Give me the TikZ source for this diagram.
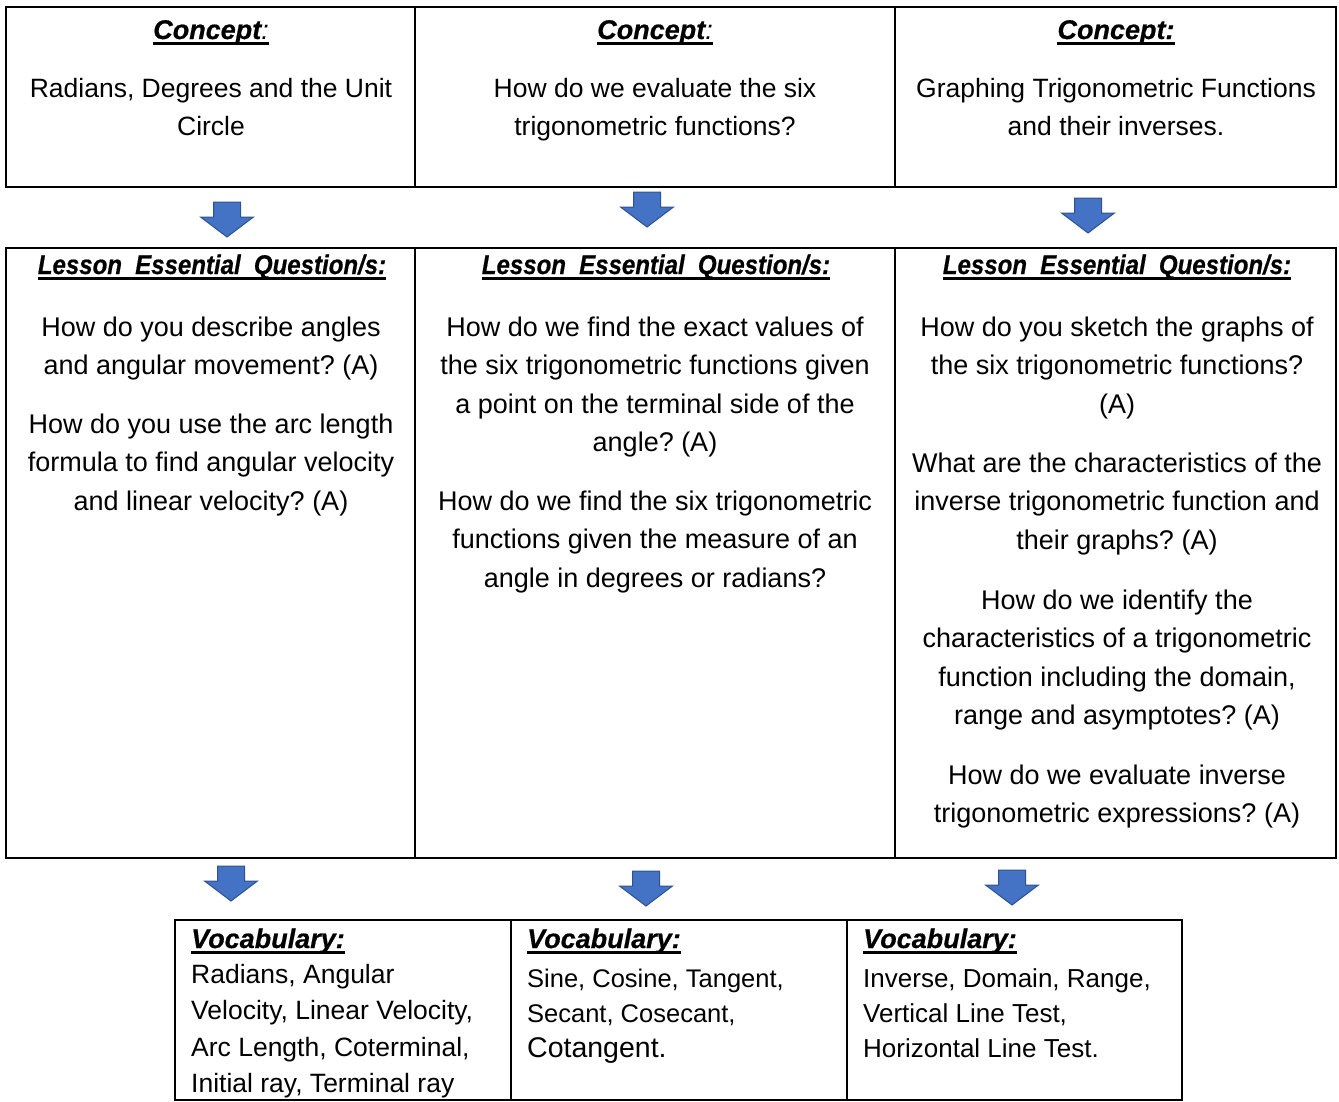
\documentclass[tikz,border=0pt]{standalone}
\usepackage{fontspec}
\setmainfont{Liberation Sans}
\newfontfamily\headfont{Liberation Sans}[BoldItalicFeatures={FakeBold=0.6}]
\usepackage{graphicx}
\frenchspacing
\definecolor{arrfill}{HTML}{4472C4}
\definecolor{arrline}{HTML}{2F528F}
\tikzset{
  body/.style={anchor=base, inner sep=0pt, font=\fontsize{27}{32}\selectfont},
  bodytop/.style={anchor=base, inner sep=0pt, font=\fontsize{26.5}{32}\selectfont},
  vocab/.style={anchor=base west, inner sep=0pt, font=\fontsize{26.5}{32}\selectfont},
  head/.style={anchor=base, inner sep=0pt, font=\headfont\fontsize{27}{32}\selectfont\bfseries\itshape},
  headleft/.style={anchor=base west, inner sep=0pt, font=\headfont\fontsize{27}{32}\selectfont\bfseries\itshape},
  ulline/.style={line width=2.8pt},
  frame/.style={line width=2.4pt},
  blockarrow/.style={fill=arrfill, draw=arrline, line width=1pt, line join=miter},
}
% name, x, first baseline y, style, spacing, list of lines
\newcommand\textlines[6]{%
  \foreach \t [count=\i] in {#6} {%
    \node[#4] (#1-\i) at (#2, {#3 + (\i-1)*#5}) {\t};
  }%
}
\newcommand\ulhead[1]{%
  \draw[ulline] ([yshift=-4.5pt]#1.base west) -- ([yshift=-4.5pt]#1.base east);
}
\newcommand\downblock[2]{%
  \draw[blockarrow] (#1-13.5,#2) -- (#1+13.5,#2) -- (#1+13.5,#2+15) -- (#1+26.5,#2+15)
    -- (#1,#2+35) -- (#1-26.5,#2+15) -- (#1-13.5,#2+15) -- cycle;
}
\begin{document}
\begin{tikzpicture}[x=1pt, y=-1pt]
\useasboundingbox (0,0) rectangle (1339,1101);

% ---------- top table ----------
\draw[frame] (6,7) rectangle (1336,187);
\draw[frame] (415,7) -- (415,187);
\draw[frame] (895,7) -- (895,187);

\node[head] (c1h) at (211,39) {Concept{\mdseries:}};
\node[head] (c2h) at (655,39) {Concept{\mdseries:}};
\node[head] (c3h) at (1116,39) {Concept:};
\ulhead{c1h}\ulhead{c2h}\ulhead{c3h}

\textlines{c1}{211}{97}{bodytop}{38}{{Radians, Degrees and the Unit},{Circle}}
\textlines{c2}{655}{97}{bodytop}{38}{{How do we evaluate the six},{trigonometric functions?}}
\textlines{c3}{1116}{97}{bodytop}{38}{{Graphing Trigonometric Functions},{and their inverses.}}

% ---------- arrows ----------
\downblock{227}{202}
\downblock{647}{192}
\downblock{1088}{198}

% ---------- middle table ----------
\draw[frame] (6,248) rectangle (1336,858);
\draw[frame] (415,248) -- (415,858);
\draw[frame] (895,248) -- (895,858);

\node[head] (l1h) at (212,274) {\scalebox{0.89}[1]{Lesson\hspace{0.55em}Essential\hspace{0.55em}Question/s:}};
\node[head] (l2h) at (656,274) {\scalebox{0.89}[1]{Lesson\hspace{0.55em}Essential\hspace{0.55em}Question/s:}};
\node[head] (l3h) at (1117,274) {\scalebox{0.89}[1]{Lesson\hspace{0.55em}Essential\hspace{0.55em}Question/s:}};
\ulhead{l1h}\ulhead{l2h}\ulhead{l3h}

\textlines{q1a}{211}{336}{body}{38.5}{{How do you describe angles},{and angular movement? (A)}}
\textlines{q1b}{211}{433}{body}{38.5}{{How do you use the arc length},{formula to find angular velocity},{and linear velocity? (A)}}

\textlines{q2a}{655}{336}{body}{38.5}{{How do we find the exact values of},{the six trigonometric functions given},{a point on the terminal side of the},{angle? (A)}}
\textlines{q2b}{655}{510}{body}{38.5}{{How do we find the six trigonometric},{functions given the measure of an},{angle in degrees or radians?}}

\textlines{q3a}{1117}{336}{body}{38.5}{{How do you sketch the graphs of},{the six trigonometric functions?},{(A)}}
\textlines{q3b}{1117}{472}{body}{38.5}{{What are the characteristics of the},{inverse trigonometric function and},{their graphs? (A)}}
\textlines{q3c}{1117}{609}{body}{38.5}{{How do we identify the},{characteristics of a trigonometric},{function including the domain,},{range and asymptotes? (A)}}
\textlines{q3d}{1117}{784}{body}{38.5}{{How do we evaluate inverse},{trigonometric expressions? (A)}}

% ---------- arrows ----------
\downblock{231}{866}
\downblock{646}{871}
\downblock{1012}{870}

% ---------- bottom table ----------
\draw[frame] (175,920) rectangle (1182,1100);
\draw[frame] (511,920) -- (511,1100);
\draw[frame] (847,920) -- (847,1100);

\node[headleft] (v1h) at (191,948) {Vocabulary:};
\node[headleft] (v2h) at (527,948) {Vocabulary:};
\node[headleft] (v3h) at (863,948) {Vocabulary:};
\ulhead{v1h}\ulhead{v2h}\ulhead{v3h}

\textlines{v1}{191}{983}{vocab}{36.5}{{Radians, Angular},{Velocity, Linear Velocity,},{Arc Length, Coterminal,},{Initial ray, Terminal ray}}
\textlines{v2}{527}{987}{vocab,font=\fontsize{25.5}{32}\selectfont}{35}{{Sine,\ Cosine,\ Tangent,},{Secant, Cosecant,}}
\node[vocab, font=\fontsize{28.5}{32}\selectfont] (v2-3) at (527,1057) {Cotangent.};
\textlines{v3}{863}{987}{vocab,font=\fontsize{26}{32}\selectfont}{35}{{Inverse, Domain, Range,},{Vertical Line Test,},{Horizontal Line Test.}}
\end{tikzpicture}
\end{document}
